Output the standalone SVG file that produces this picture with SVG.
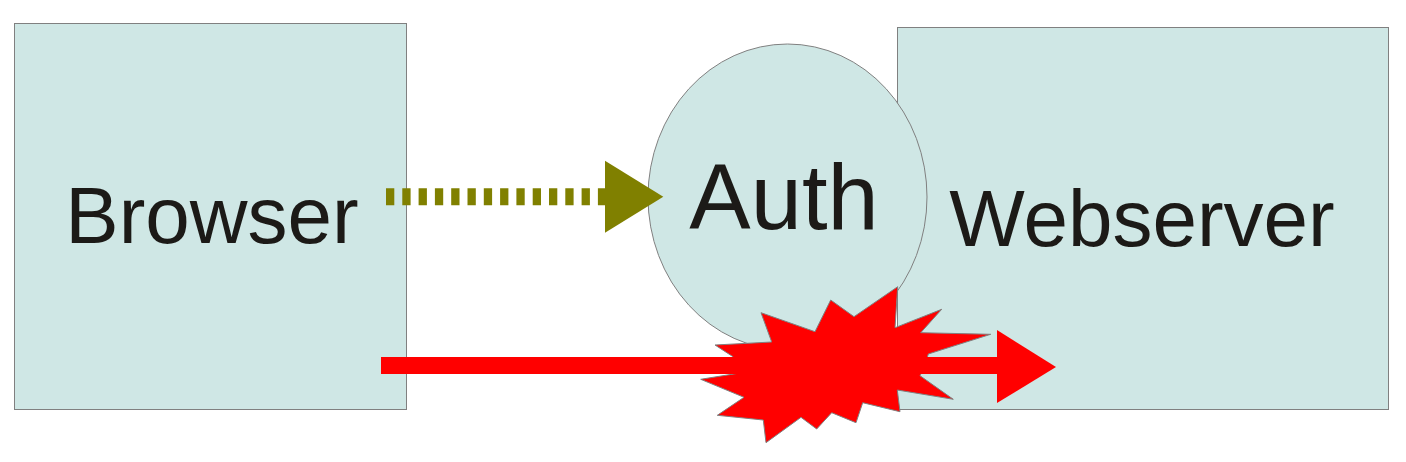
<svg xmlns="http://www.w3.org/2000/svg" width="1406" height="462" viewBox="0 0 1406 462">
<style>
.box{fill:#cfe7e5;stroke:#808080;stroke-width:1}
.lbl{font-family:"Liberation Sans",Arial,sans-serif;fill:#1c1a17;text-anchor:middle}
</style>
<rect width="1406" height="462" fill="#ffffff"/>
<g id="browser">
<rect class="box" x="14.5" y="23.5" width="392" height="386"/>
<text class="lbl" x="212" y="243" font-size="80">Browser</text>
</g>
<g id="webserver">
<rect class="box" x="897.5" y="27.5" width="491" height="382"/>
<text class="lbl" x="1142" y="246" font-size="80">Webserver</text>
</g>
<g id="auth">
<ellipse class="box" cx="787.5" cy="197" rx="139.5" ry="153"/>
<text class="lbl" x="784" y="229" font-size="92">Auth</text>
</g>
<g id="explosion">
<polygon fill="#ff0000" stroke="#808080" stroke-width="1" points="897.7,286.7 895,327.7 941.7,309.3 920.7,332.7 990.7,334.3 928.3,354 925,365 920,375.7 953.3,399.3 897.3,390 900,411.7 862.7,402.7 856,422.7 831.7,412.7 816.7,429 801,417.3 766,442.7 763.3,420 717.3,415.3 744,397.3 700.7,379.3 741.7,372.7 737,365 733,356.7 715,345 771.7,342 761,312.7 815,331.7 830.7,300 854,316.7"/>
</g>
<g id="connectors">
<line x1="386" y1="196.7" x2="612" y2="196.7" stroke="#808000" stroke-width="17" stroke-dasharray="8.3 8"/>
<polygon fill="#808000" points="605,160.7 663.3,196.7 605,232.7"/>
<rect x="381" y="357" width="620" height="17" fill="#ff0000"/>
<polygon fill="#ff0000" points="997,330 1056,367 997,403"/>
</g>
</svg>
